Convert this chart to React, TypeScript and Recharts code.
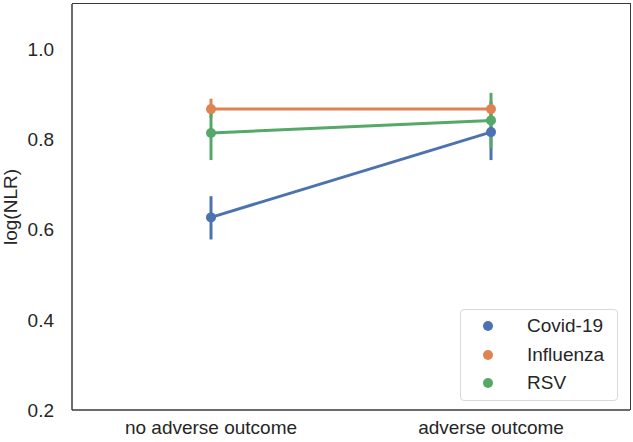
import { ErrorBar, Line, LineChart, XAxis, YAxis, Label } from "recharts";

const categories = ["no adverse outcome", "adverse outcome"];
const covid = [0.627, 0.816];
const covidLow = [0.578, 0.754];
const covidHigh = [0.674, 0.88];
const influenza = [0.867, 0.867];
const influenzaLow = [0.848, 0.85];
const influenzaHigh = [0.89, 0.886];
const rsv = [0.814, 0.842];
const rsvLow = [0.754, 0.78];
const rsvHigh = [0.87, 0.903];
const yTicks = [0.2, 0.4, 0.6, 0.8, 1.0];

const series = [
  { key: "covid", name: "Covid-19", color: "#4c72b0" },
  { key: "influenza", name: "Influenza", color: "#dd8452" },
  { key: "rsv", name: "RSV", color: "#55a868" },
];

const data = categories.map((name, i) => ({
  name,
  covid: covid[i],
  covidErr: [covid[i] - covidLow[i], covidHigh[i] - covid[i]],
  influenza: influenza[i],
  influenzaErr: [influenza[i] - influenzaLow[i], influenzaHigh[i] - influenza[i]],
  rsv: rsv[i],
  rsvErr: [rsv[i] - rsvLow[i], rsvHigh[i] - rsv[i]],
}));

const font = "'Liberation Sans', Arial, sans-serif";
const frame = "#3a3a3a";
const textColor = "#262626";

function LegendBox() {
  return (
    <div
      style={{
        position: "absolute",
        left: 460,
        top: 309,
        width: 158,
        boxSizing: "border-box",
        border: "1px solid #d9d9d9",
        borderRadius: 4,
        background: "#fff",
        padding: "2px 0 2px 22px",
        fontFamily: font,
        fontSize: 19,
        color: textColor,
      }}
    >
      {series.map((s) => (
        <div key={s.key} style={{ display: "flex", alignItems: "center", height: 28.5 }}>
          <span
            style={{
              width: 10,
              height: 10,
              borderRadius: 5,
              background: s.color,
              display: "inline-block",
              marginRight: 34,
            }}
          />
          <span>{s.name}</span>
        </div>
      ))}
    </div>
  );
}

export default function App() {
  return (
    <div style={{ position: "absolute", left: 0, top: 0, width: 633, height: 442, background: "#fff" }}>
      <LineChart width={633} height={442} data={data} margin={{ top: 4, right: 3, bottom: 0, left: 0 }}>
        <XAxis
          dataKey="name"
          padding={{ left: 139, right: 139 }}
          interval={0}
          tickLine={false}
          axisLine={{ stroke: frame, strokeWidth: 1.5 }}
          tick={{ fill: textColor, fontSize: 19, fontFamily: font }}
          tickMargin={5}
          height={32}
        />
        <YAxis
          domain={[0.2, 1.1]}
          ticks={yTicks}
          tickFormatter={(v: number) => v.toFixed(1)}
          tickLine={false}
          axisLine={{ stroke: frame, strokeWidth: 1.5 }}
          tick={{ fill: textColor, fontSize: 19, fontFamily: font }}
          tickMargin={12}
          width={72}
        >
          <Label
            value="log(NLR)"
            angle={-90}
            position="insideLeft"
            offset={10}
            style={{ textAnchor: "middle", fill: textColor, fontSize: 19, fontFamily: font }}
          />
        </YAxis>
        {series.map((s) => (
          <Line
            key={s.key}
            dataKey={s.key}
            name={s.name}
            stroke={s.color}
            strokeWidth={3}
            dot={{ r: 5, fill: s.color, stroke: s.color, strokeWidth: 0 }}
            activeDot={false}
            isAnimationActive={false}
          >
            <ErrorBar dataKey={`${s.key}Err`} width={0} stroke={s.color} strokeWidth={3} direction="y" />
          </Line>
        ))}
      </LineChart>
      {/* top and right edges of the axes frame */}
      <div
        style={{
          position: "absolute",
          left: 72,
          top: 3.25,
          width: 558.75,
          height: 406.75,
          boxSizing: "border-box",
          borderTop: `1.5px solid ${frame}`,
          borderRight: `1.5px solid ${frame}`,
          pointerEvents: "none",
        }}
      />
      <LegendBox />
    </div>
  );
}
